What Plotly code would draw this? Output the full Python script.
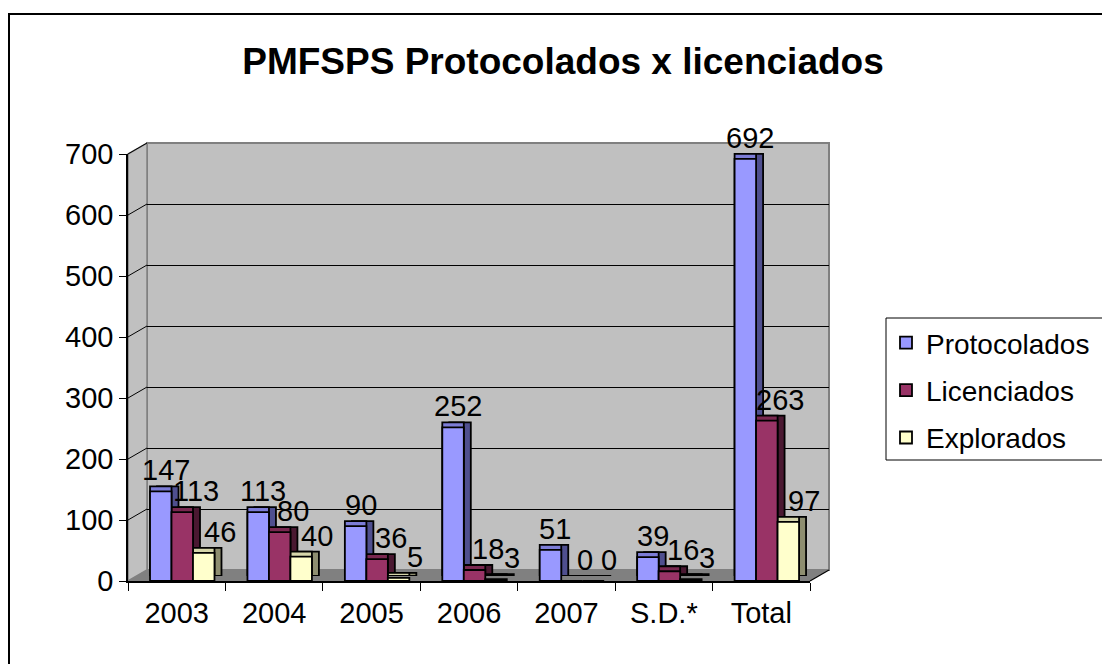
import plotly.graph_objects as go

# ---------------- data ----------------
categories = ["2003", "2004", "2005", "2006", "2007", "S.D.*", "Total"]
protocolados = [147, 113, 90, 252, 51, 39, 692]
licenciados = [113, 80, 36, 18, 0, 16, 263]
explorados = [46, 40, 5, 3, 0, 3, 97]
series_names = ["Protocolados", "Licenciados", "Explorados"]
y_ticks = [0, 100, 200, 300, 400, 500, 600, 700]
title_text = "PMFSPS Protocolados x licenciados"

# ---------------- styling / geometry ----------------
W, H = 1102, 664
FONT = "Liberation Sans, Arial, sans-serif"


def px(x):
    return x / W


def py(y):
    return 1 - y / H


# front plane (axis) and back wall pixel positions
FX0, FX1, FY0, FY1 = 128, 810, 581, 154
BX0, BX1, BY0, BY1 = 147, 829, 570, 143
DX, DY = 7, 5  # bar depth

front_cols = ["#9999FF", "#993366", "#FFFFCC"]
side_cols = ["#4F4F8F", "#4A1831", "#8E8E70"]
top_cols = ["#7C7CD6", "#7A2850", "#D6D6AA"]
bar_w = 0.2207
offsets = [-0.274, -0.0535, 0.167]
label_shift = [-11, 19, 43]
values = [protocolados, licenciados, explorados]

fig = go.Figure()

# subplot 1: back wall grid (dummy trace)
fig.add_trace(go.Scatter(x=categories, y=[None] * len(categories), xaxis="x", yaxis="y",
                         mode="markers", showlegend=False, hoverinfo="skip"))

# subplot 2: side faces, subplot 3: top faces, subplot 4: front faces
for layer, cols, ax in [("side", side_cols, "2"), ("top", top_cols, "3"), ("front", front_cols, "4")]:
    for i, name in enumerate(series_names):
        fig.add_trace(go.Bar(
            x=categories, y=values[i], name=name,
            xaxis="x" + ax, yaxis="y" + ax,
            width=bar_w, offset=offsets[i],
            marker=dict(color=cols[i], line=dict(color="#000000", width=1.8)),
            showlegend=(layer == "front"), legendgroup=name,
            hoverinfo="skip" if layer != "front" else None,
        ))

# data labels (x given as category index: number-like category names)
annotations = []
for i, vals in enumerate(values):
    for j, v in enumerate(vals):
        annotations.append(dict(
            x=j, y=v, xref="x4", yref="y4", text=str(v), showarrow=False,
            xanchor="center", yanchor="bottom", xshift=label_shift[i], yshift=4,
            borderpad=0,
            font=dict(family=FONT, size=29, color="#000000"),
        ))

shapes = []
# back wall
shapes.append(dict(type="rect", xref="paper", yref="paper", layer="below",
                   x0=px(BX0), x1=px(BX1), y0=py(BY0), y1=py(BY1),
                   fillcolor="#C0C0C0", line=dict(color="#808080", width=2)))
# left side wall
shapes.append(dict(type="path", xref="paper", yref="paper", layer="below",
                   path=f"M{px(FX0)},{py(FY0)} L{px(FX0)},{py(FY1)} L{px(BX0)},{py(BY1)} L{px(BX0)},{py(BY0)} Z",
                   fillcolor="#C0C0C0", line=dict(color="#808080", width=1.5)))
# floor
shapes.append(dict(type="path", xref="paper", yref="paper", layer="below",
                   path=f"M{px(FX0)},{py(FY0)} L{px(BX0)},{py(BY0)} L{px(BX1)},{py(BY0)} L{px(FX1)},{py(FY0)} Z",
                   fillcolor="#808080", line=dict(width=0)))
# floor right edge
shapes.append(dict(type="line", xref="paper", yref="paper",
                   x0=px(FX1), y0=py(FY0), x1=px(BX1), y1=py(BY0),
                   line=dict(color="#000000", width=1.2)))
# diagonal tick connectors on side wall
scale = (FY0 - FY1) / (y_ticks[-1] - y_ticks[0])
for v in y_ticks[1:]:
    shapes.append(dict(type="line", xref="paper", yref="paper", layer="below",
                       x0=px(FX0), y0=py(FY0 - v * scale), x1=px(BX0), y1=py(BY0 - v * scale),
                       line=dict(color="#000000", width=1)))
# legend frame (runs past the right edge like the reference)
shapes.append(dict(type="rect", xref="paper", yref="paper", layer="below",
                   x0=px(886), x1=1.02, y0=py(460), y1=py(318),
                   fillcolor="#FFFFFF", line=dict(color="#000000", width=1)))
# outer chart frame
shapes.append(dict(type="rect", xref="paper", yref="paper",
                   x0=px(9), y0=-0.02, x1=1.02, y1=py(14),
                   line=dict(color="#000000", width=2), fillcolor="rgba(0,0,0,0)"))

xr = [-0.5, len(categories) - 0.5]
yr = [y_ticks[0], y_ticks[-1]]
hidden = dict(visible=False, showgrid=False, zeroline=False, fixedrange=True)

fig.update_layout(
    width=W, height=H,
    margin=dict(l=0, r=0, t=0, b=0, pad=0, autoexpand=False),
    paper_bgcolor="#FFFFFF", plot_bgcolor="rgba(0,0,0,0)",
    barmode="overlay",
    font=dict(family=FONT, size=28, color="#000000"),
    title=dict(text="<b>" + title_text + "</b>", x=px(563), y=py(61),
               xanchor="center", yanchor="middle",
               font=dict(family=FONT, size=37, color="#000000")),
    showlegend=True,
    legend=dict(x=px(886), y=py(318), xanchor="left", yanchor="top",
                bgcolor="rgba(0,0,0,0)", borderwidth=0,
                font=dict(family=FONT, size=28, color="#000000"),
                tracegroupgap=8, traceorder="grouped"),
    # back wall grid
    xaxis=dict(domain=[px(BX0), px(BX1)], anchor="y", type="category", range=xr, **hidden),
    yaxis=dict(domain=[py(BY0), py(BY1)], anchor="x", range=yr, tickvals=y_ticks[1:-1],
               showgrid=True, gridcolor="#000000", gridwidth=1, zeroline=False,
               showticklabels=False, ticks="", showline=False, fixedrange=True),
    # side faces
    xaxis2=dict(domain=[px(FX0 + DX), px(FX1 + DX)], anchor="y2", type="category", range=xr, **hidden),
    yaxis2=dict(domain=[py(FY0 - DY), py(FY1 - DY)], anchor="x2", range=yr, **hidden),
    # top faces
    xaxis3=dict(domain=[px(FX0), px(FX1)], anchor="y3", type="category", range=xr, **hidden),
    yaxis3=dict(domain=[py(FY0 - DY), py(FY1 - DY)], anchor="x3", range=yr, **hidden),
    # front faces + visible axes
    xaxis4=dict(domain=[px(FX0), px(FX1)], anchor="y4", type="category", range=xr,
                categoryorder="array", categoryarray=categories,
                tickson="boundaries", ticks="outside", ticklen=8, tickcolor="#000000",
                showline=True, linecolor="#000000", linewidth=1.5, showgrid=False,
                ticklabelstandoff=5,
                tickfont=dict(family=FONT, size=29, color="#000000"), fixedrange=True,
                automargin=False),
    yaxis4=dict(domain=[py(FY0), py(FY1)], anchor="x4", range=yr, tickvals=y_ticks,
                ticks="outside", ticklen=7, tickcolor="#000000",
                showline=True, linecolor="#000000", linewidth=1.5, showgrid=False, zeroline=False,
                tickfont=dict(family=FONT, size=29, color="#000000"), fixedrange=True,
                automargin=False),
    annotations=annotations,
    shapes=shapes,
)

fig.write_html("out.html",
               config={"displayModeBar": False},
               post_script="document.body.style.margin='0';document.body.style.overflow='hidden';")
